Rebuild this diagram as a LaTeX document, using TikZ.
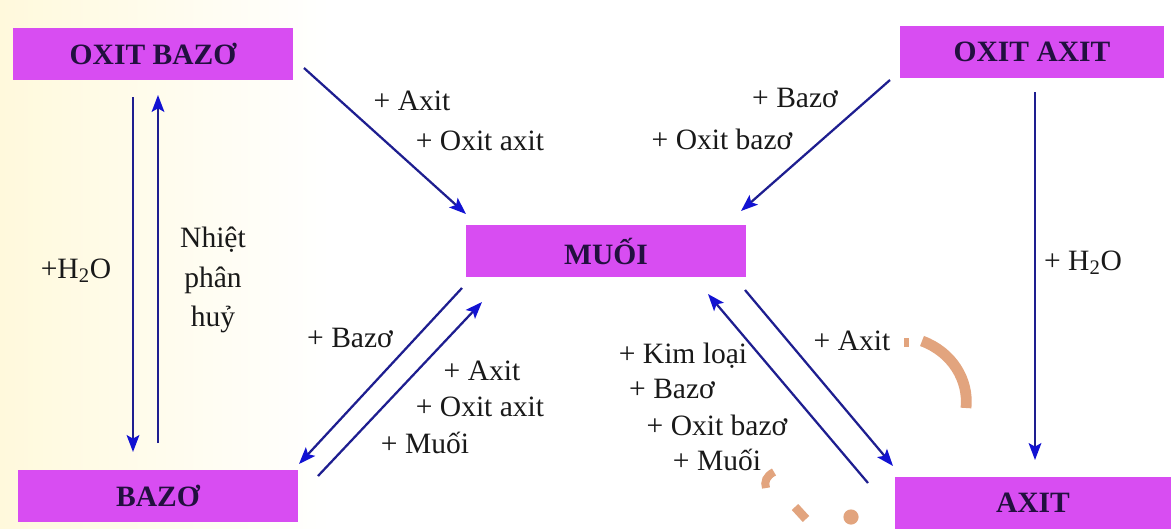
\documentclass[tikz,border=0pt]{standalone}
\usepackage{fontspec}
\setmainfont{Liberation Serif}
\usetikzlibrary{arrows.meta}

\definecolor{hopvang}{HTML}{D84DF2}
\definecolor{chuhop}{HTML}{22103F}
\definecolor{netten}{HTML}{1E1E90}
\definecolor{dauten}{HTML}{1212D2}
\definecolor{nenvang}{HTML}{FFF9DC}
\definecolor{vetcam}{HTML}{E2A47E}

\tikzset{
	hop/.style={fill=hopvang, minimum height=1.3cm, inner sep=0pt, text=chuhop,
		font=\fontsize{21}{25}\selectfont\bfseries},
	chu/.style={inner sep=0pt, text=black!90, font=\fontsize{21}{25}\selectfont},
	chieu/.style={line width=1.6pt, draw=netten,
		-{Stealth[length=12pt, width=9pt, inset=2.5pt, color=dauten]}},
}

\begin{document}
\begin{tikzpicture}[x=0.025cm, y=-0.025cm]
				
				% --- Nen ---
				\useasboundingbox (0,0) rectangle (1173,528);
				\fill[white] (0,0) rectangle (1173,528);
				\shade[left color=nenvang, right color=white] (0,0) rectangle (330,528);
				
				% --- Cac hop ---
				\node[hop, minimum width=7cm] (oxbazo) at (153,54) {OXIT BAZƠ};
				\node[hop, minimum width=6.6cm] (oxaxit) at (1032,52) {OXIT AXIT};
				\node[hop, minimum width=7cm] (muoi) at (606,251) {MUỐI};
				\node[hop, minimum width=7cm] (bazo) at (158,496) {BAZƠ};
				\node[hop, minimum width=6.9cm] (axit) at (1033,503) {AXIT};
				
				% --- Dau va cuoi mui ten ---
				\coordinate (ob-m) at (304,68);
				\coordinate (m-ob) at (466,214);
				\coordinate (oa-m) at (890,80);
				\coordinate (m-oa) at (741,211);
				\coordinate (ob-b) at (133,97);
				\coordinate (b-ob) at (133,452);
				\coordinate (b-ob2) at (158,443);
				\coordinate (ob-b2) at (158,95);
				\coordinate (oa-a) at (1035,92);
				\coordinate (a-oa) at (1035,460);
				\coordinate (m-b) at (462,288);
				\coordinate (b-m) at (299,464);
				\coordinate (b-m2) at (318,476);
				\coordinate (m-b2) at (482,302);
				\coordinate (m-a) at (745,290);
				\coordinate (a-m) at (893,466);
				\coordinate (a-m2) at (868,483);
				\coordinate (m-a2) at (708,294);
				
				% --- Mui ten ---
				\draw[chieu] (ob-m) -- (m-ob);
				\draw[chieu] (oa-m) -- (m-oa);
				\draw[chieu] (ob-b) -- (b-ob);
				\draw[chieu] (b-ob2) -- (ob-b2);
				\draw[chieu] (oa-a) -- (a-oa);
				\draw[chieu] (m-b) -- (b-m);
				\draw[chieu] (b-m2) -- (m-b2);
				\draw[chieu] (m-a) -- (a-m);
				\draw[chieu] (a-m2) -- (m-a2);
				
				% --- Dieu kien phan ung ---
				\node[chu] (ob-axit) at (412,101) {+ Axit};
				\node[chu] (ob-oxit) at (480,141) {+ Oxit axit};
				\node[chu] (oa-bazo) at (795,98) {+ Bazơ};
				\node[chu] (oa-oxit) at (722,139) {+ Oxit bazơ};
				\node[chu] (ob-nuoc) at (76,271) {+H\textsubscript{2}O};
				\node[chu, align=center, font=\fontsize{21}{28}\selectfont] (nhiet) at (213,280) {Nhiệt\\phân\\huỷ};
				\node[chu] (oa-nuoc) at (1083,263) {+ H\textsubscript{2}O};
				\node[chu] (m-bazo) at (350,338) {+ Bazơ};
				\node[chu] (b-axit) at (482,371) {+ Axit};
				\node[chu] (b-oxit) at (480,407) {+ Oxit axit};
				\node[chu] (b-muoi) at (425,443) {+ Muối};
				\node[chu] (a-kl) at (683,356) {+ Kim loại};
				\node[chu] (a-bazo) at (672,389) {+ Bazơ};
				\node[chu] (a-oxit) at (717,425) {+ Oxit bazơ};
				\node[chu] (a-muoi) at (717,460) {+ Muối};
				\node[chu] (m-axit) at (852,341) {+ Axit};
				
				% --- Vet mau cam ---
				\draw[vetcam, line width=0.27cm] (922,341) .. controls (952,352) and (969,380) .. (966,408);
				\fill[vetcam] (904,338) rectangle (909,347);
				\draw[vetcam, line width=0.2cm] (774,472) .. controls (766,476) and (764,482) .. (766,488);
				\draw[vetcam, line width=0.22cm] (795,507) -- (806,519);
				\fill[vetcam] (851,517) circle (0.19cm);
				
			\end{tikzpicture}
\end{document}
